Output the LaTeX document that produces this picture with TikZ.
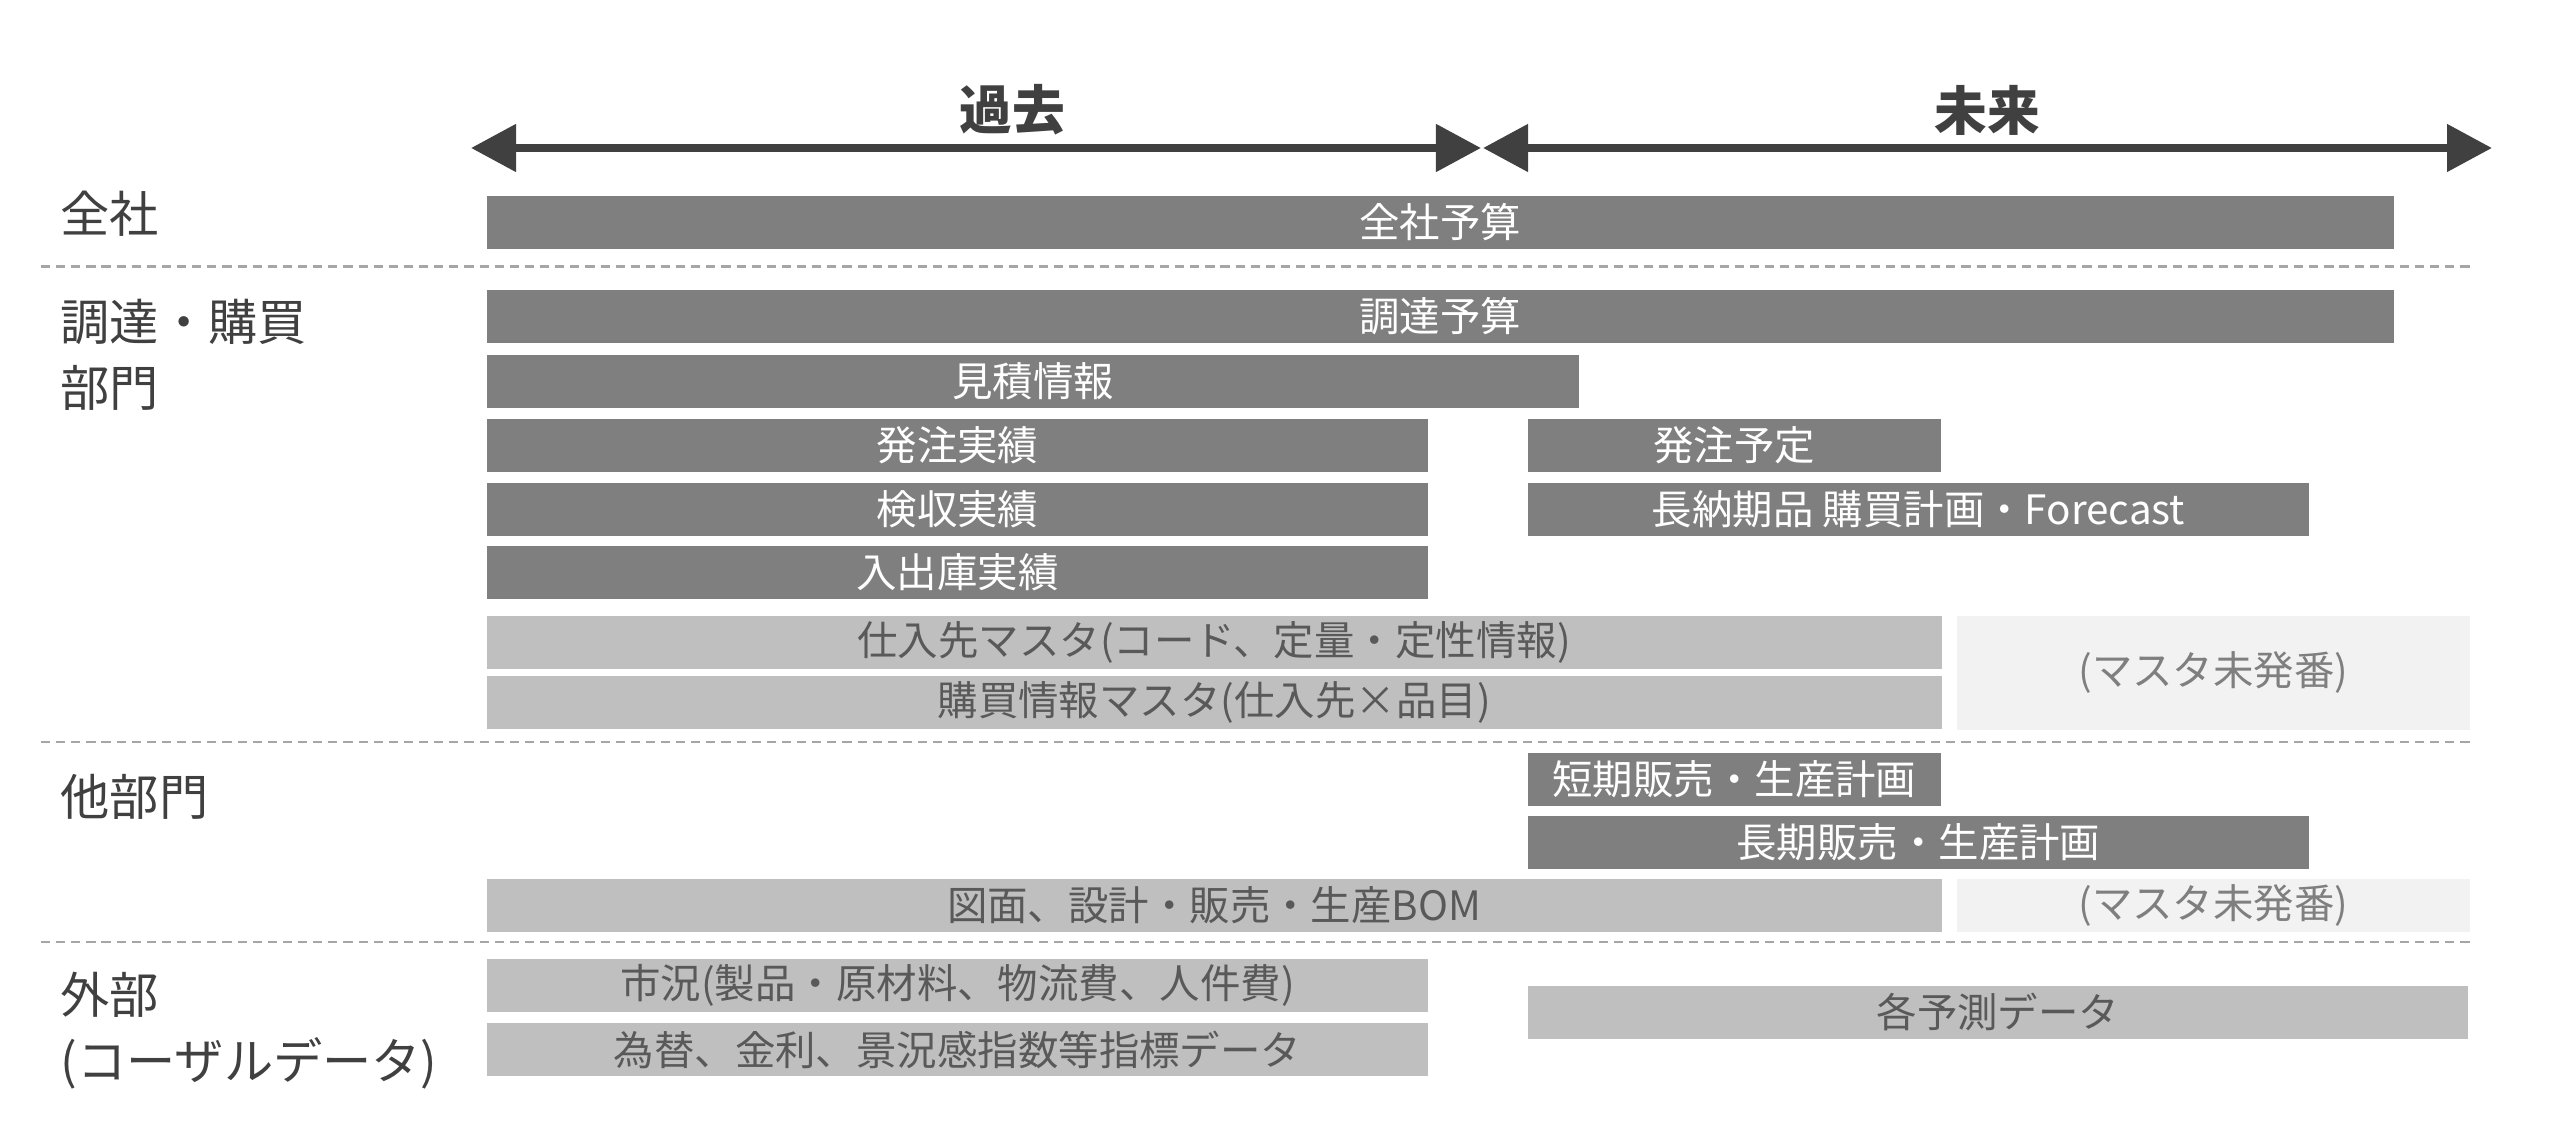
\documentclass[tikz,border=0pt]{standalone}
\usepackage{fontspec}
\setmainfont{Noto Sans CJK JP}
\usetikzlibrary{arrows.meta}

\definecolor{barDark}{HTML}{7F7F7F}
\definecolor{barLight}{HTML}{BFBFBF}
\definecolor{barPale}{HTML}{F2F2F2}
\definecolor{txtGray}{HTML}{595959}
\definecolor{lineGray}{HTML}{A6A6A6}
\definecolor{arrowGray}{HTML}{404040}

\begin{document}
\begin{tikzpicture}[x=0.01cm, y=-0.01cm,
    bar/.style={rectangle, anchor=north west, inner sep=0pt, minimum height=0.535cm, font=\fontsize{11.5}{14}\selectfont},
    dark/.style={bar, fill=barDark, text=white},
    light/.style={bar, fill=barLight, text=txtGray},
    pale/.style={bar, fill=barPale, text=barDark},
    dept/.style={anchor=west, inner sep=0pt, align=left, text=arrowGray, font=\fontsize{14}{18.8}\selectfont},
    period/.style={text=arrowGray, font=\fontsize{15}{18}\selectfont\bfseries},
    sep/.style={draw=lineGray, line width=0.85pt, dash pattern=on 2.6pt off 1.7pt},
    span/.style={draw=arrowGray, line width=0.08cm, {Triangle[length=0.45cm, width=0.46cm]}-{Triangle[length=0.45cm, width=0.46cm]}}]
    \useasboundingbox (0,0) rectangle (2560,1122);

    % time axis
    \coordinate (pastL) at (471,148);
    \coordinate (pastR) at (1481,148);
    \coordinate (futL) at (1483,148);
    \coordinate (futR) at (2492,148);
    \draw[span] (pastL) -- (pastR);
    \draw[span] (futL) -- (futR);
    \node[period] (past) at (1012,110) {過去};
    \node[period] (future) at (1987,110) {未来};

    % departments
    \node[dept] (company) at (60,214) {全社};
    \node[dept] (purchase) at (60,355) {調達・購買\\部門};
    \node[dept] (others) at (60,797) {他部門};
    \node[dept] (external) at (60,1031) {外部\\(コーザルデータ)};

    % separators
    \coordinate (sepA1) at (41,267);
    \coordinate (sepA2) at (2470,267);
    \coordinate (sepB1) at (41,742);
    \coordinate (sepB2) at (2470,742);
    \coordinate (sepC1) at (41,942);
    \coordinate (sepC2) at (2470,942);
    \draw[sep] (sepA1) -- (sepA2);
    \draw[sep] (sepB1) -- (sepB2);
    \draw[sep] (sepC1) -- (sepC2);

    % company
    \node[dark, minimum width=19.06cm] (budget) at (486,195) {全社予算};

    % purchasing
    \node[dark, minimum width=19.06cm] (procbudget) at (486,289) {調達予算};
    \node[dark, minimum width=10.92cm] (quote) at (486,354) {見積情報};
    \node[dark, minimum width=9.41cm] (poactual) at (486,418) {発注実績};
    \node[dark, minimum width=9.41cm] (inspect) at (486,482) {検収実績};
    \node[dark, minimum width=9.41cm] (stock) at (486,545) {入出庫実績};
    \node[dark, minimum width=4.13cm] (poplan) at (1527,418) {発注予定};
    \node[dark, minimum width=7.81cm] (longlead) at (1527,482) {長納期品 購買計画・Forecast};
    \node[light, minimum width=14.54cm] (suppmaster) at (486,615) {仕入先マスタ(コード、定量・定性情報)};
    \node[light, minimum width=14.54cm] (purchmaster) at (486,675) {購買情報マスタ(仕入先×品目)};
    \node[pale, minimum width=5.13cm, minimum height=1.14cm] (nomasterA) at (1956,615) {(マスタ未発番)};

    % other departments
    \node[dark, minimum width=4.13cm] (shortplan) at (1527,752) {短期販売・生産計画};
    \node[dark, minimum width=7.81cm] (longplan) at (1527,815) {長期販売・生産計画};
    \node[light, minimum width=14.54cm] (bom) at (486,878) {図面、設計・販売・生産BOM};
    \node[pale, minimum width=5.13cm] (nomasterB) at (1956,878) {(マスタ未発番)};

    % external
    \node[light, minimum width=9.41cm] (market) at (486,958) {市況(製品・原材料、物流費、人件費)};
    \node[light, minimum width=9.41cm] (index) at (486,1022) {為替、金利、景況感指数等指標データ};
    \node[light, minimum width=9.40cm] (forecast) at (1527,985) {各予測データ};
\end{tikzpicture}
\end{document}
